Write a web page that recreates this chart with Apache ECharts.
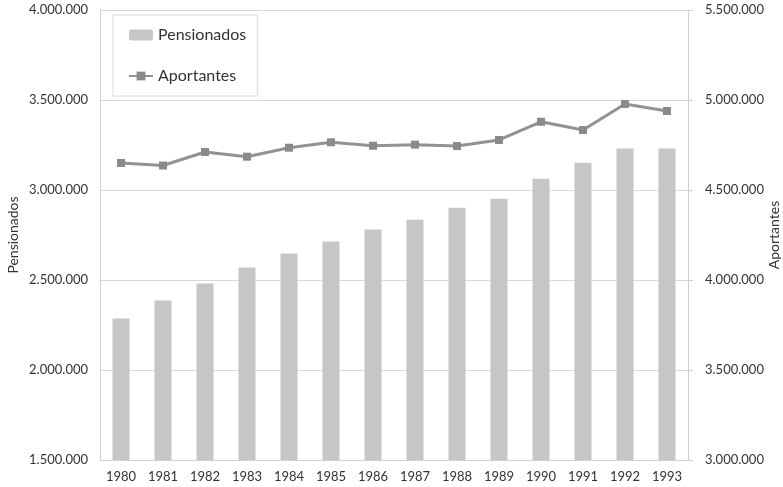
<!DOCTYPE html>
<html>
<head>
  <meta charset="utf-8">
  <title>Pensionados y Aportantes</title>
  <script src="https://cdn.jsdelivr.net/npm/echarts@6/dist/echarts.min.js"></script>
  <style type="text/css">
    html, body, #main {
      height: 100%;
      width: 100%;
      margin: 0;
      padding: 0;
      background: #fff;
    }
  </style>
</head>
<body>
  <div id="main"></div>
  <script>
    // data
    var years = ['1980', '1981', '1982', '1983', '1984', '1985', '1986',
                 '1987', '1988', '1989', '1990', '1991', '1992', '1993'];
    var pensionados = [2286000, 2386000, 2480000, 2569000, 2647000, 2714000, 2780000,
                       2835000, 2902000, 2952000, 3063000, 3152000, 3230000, 3230000];
    var aportantes = [4650000, 4636000, 4711000, 4685000, 4735000, 4765000, 4746000,
                      4752000, 4744000, 4778000, 4879000, 4833000, 4978000, 4939000];

    function fmt(v) {
      return String(v).replace(/\B(?=(\d{3})+(?!\d))/g, '.');
    }

    var font = 'Lato, "Open Sans", sans-serif';
    var myChart = echarts.init(document.getElementById('main'));
    myChart.setOption({
      animation: false,
      textStyle: { fontFamily: font },
      grid: { left: 100, right: 95, top: 10, bottom: 27, outerBoundsMode: 'none', containLabel: false },
      legend: {
        orient: 'vertical',
        left: 113,
        top: 15,
        padding: [12, 11, 12, 15],
        itemGap: 25,
        itemWidth: 24,
        itemHeight: 11,
        borderColor: '#d9d9d9',
        borderWidth: 1,
        backgroundColor: '#fff',
        textStyle: { fontSize: 16, color: '#333', fontFamily: font },
        data: ['Pensionados', 'Aportantes']
      },
      xAxis: {
        type: 'category',
        data: years,
        axisLine: { lineStyle: { color: '#d0d0d0', width: 1 } },
        axisTick: { show: false },
        axisLabel: { color: '#333', fontSize: 13, margin: 10, hideOverlap: false }
      },
      yAxis: [{
        type: 'value',
        name: 'Pensionados',
        nameLocation: 'middle',
        nameGap: 80,
        nameMoveOverlap: false,
        nameTextStyle: { fontSize: 14, color: '#333' },
        min: 1500000, max: 4000000, interval: 500000,
        axisLine: { show: true, lineStyle: { color: '#d0d0d0' } },
        axisTick: { show: false },
        axisLabel: { color: '#333', fontSize: 13, margin: 12, formatter: fmt },
        splitLine: { lineStyle: { color: '#d9d9d9' } }
      }, {
        type: 'value',
        name: 'Aportantes',
        nameLocation: 'middle',
        nameGap: 79,
        nameMoveOverlap: false,
        nameTextStyle: { fontSize: 14, color: '#333' },
        min: 3000000, max: 5500000, interval: 500000,
        axisLine: { show: true, lineStyle: { color: '#d0d0d0' } },
        axisTick: { show: true, length: 5, lineStyle: { color: '#d0d0d0' } },
        axisLabel: { color: '#333', fontSize: 13, margin: 17, formatter: fmt },
        splitLine: { show: false }
      }],
      series: [{
        name: 'Pensionados',
        type: 'bar',
        yAxisIndex: 0,
        data: pensionados,
        barWidth: 17,
        itemStyle: { color: '#c6c6c6' }
      }, {
        name: 'Aportantes',
        type: 'line',
        yAxisIndex: 1,
        data: aportantes,
        symbol: 'rect',
        symbolSize: 8,
        lineStyle: { color: '#929292', width: 3 },
        itemStyle: { color: '#8a8a8a' }
      }]
    });
  </script>
</body>
</html>
